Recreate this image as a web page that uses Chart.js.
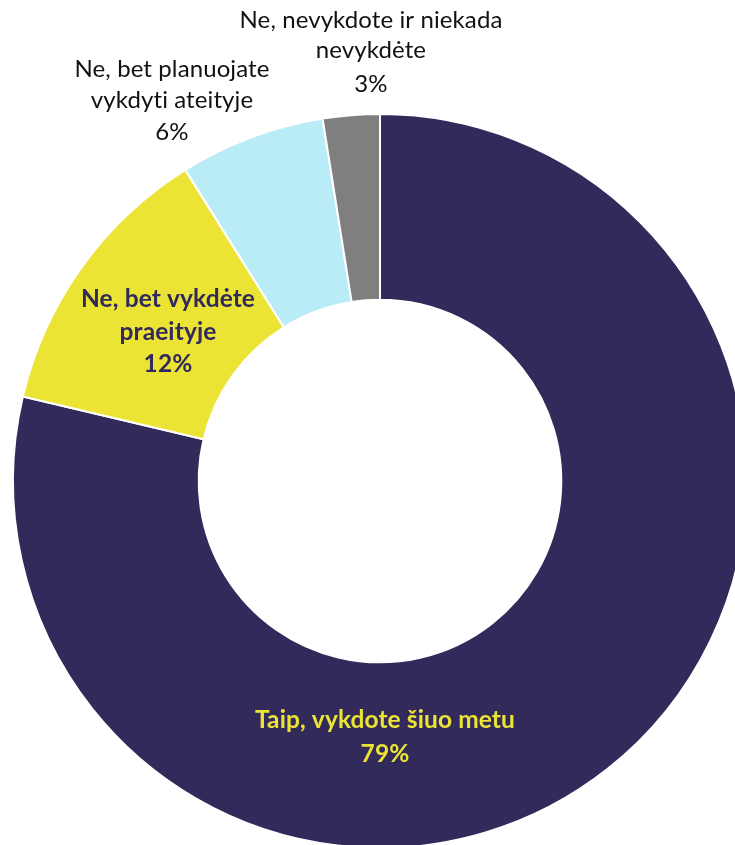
<!DOCTYPE html>
<html>
<head>
<meta charset="utf-8">
<script src="https://cdn.jsdelivr.net/npm/chart.js@4/dist/chart.umd.min.js"></script>
<style>
  html, body { margin: 0; padding: 0; background: #fff; overflow: hidden; }
  #wrap { position: relative; width: 735px; height: 845px; overflow: hidden; }
  #c { position: absolute; left: 0; top: 0; }
</style>
</head>
<body>
<div id="wrap"><canvas id="c" width="760" height="962"></canvas></div>
<script>
const categories = [
  "Taip, vykdote šiuo metu",
  "Ne, bet vykdėte praeityje",
  "Ne, bet planuojate vykdyti ateityje",
  "Ne, nevykdote ir niekada nevykdėte"
];
const values = [78.7, 12.4, 6.4, 2.5];
const colors = ["#312A5A", "#ECE435", "#B9ECF6", "#7F7F7F"];
// label lines (text) and their styling
const labelLines = [
  ["Taip, vykdote šiuo metu"],
  ["Ne, bet vykdėte", "praeityje"],
  ["Ne, bet planuojate", "vykdyti ateityje"],
  ["Ne, nevykdote ir niekada", "nevykdėte"]
];
const labelColors = ["#ECE435", "#312A5A", "#111111", "#111111"];
const labelBold = [true, true, false, false];
// label anchor: center x, baselines of each line (incl. percent line)
const labelLayout = [
  { x: 385, ys: [728, 762] },
  { x: 168, ys: [307, 340, 372] },
  { x: 172, ys: [77, 108, 140] },
  { x: 371, ys: [28, 58, 92] }
];

const labelPlugin = {
  id: 'labels',
  afterDraw(chart) {
    const ctx = chart.ctx;
    const ds = chart.data.datasets[0].data;
    ctx.save();
    ctx.textAlign = 'center';
    ctx.textBaseline = 'alphabetic';
    try { ctx.letterSpacing = '0.1px'; } catch (e) {}
    ds.forEach((v, i) => {
      const lines = labelLines[i].concat([Math.round(v) + '%']);
      const lay = labelLayout[i];
      ctx.fillStyle = labelColors[i];
      ctx.font = (labelBold[i] ? 'bold 24.5px Lato' : '24px Lato');
      lines.forEach((t, j) => ctx.fillText(t, lay.x, lay.ys[j]));
    });
    ctx.restore();
  }
};

new Chart(document.getElementById('c'), {
  type: 'doughnut',
  data: {
    labels: categories,
    datasets: [{
      data: values,
      backgroundColor: colors,
      borderColor: '#ffffff',
      borderWidth: 2,
      radius: 367,
      cutout: '49.4%'
    }]
  },
  options: {
    responsive: false,
    animation: false,
    layout: { padding: 0 },
    plugins: { legend: { display: false }, tooltip: { enabled: false } }
  },
  plugins: [labelPlugin]
});
</script>
</body>
</html>
